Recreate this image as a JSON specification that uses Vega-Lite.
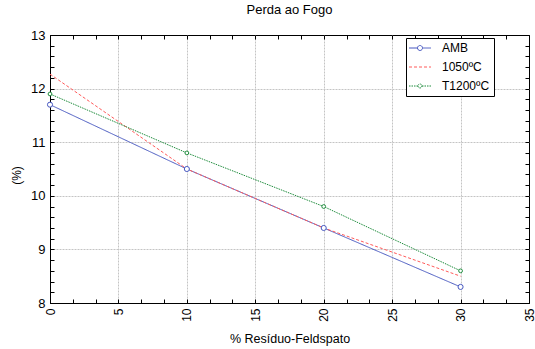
{
  "$schema": "https://vega.github.io/schema/vega-lite/v6.json",
  "autosize": {"type": "none"},
  "width": 479,
  "height": 268,
  "padding": {"left": 50, "top": 35, "right": 6, "bottom": 46},
  "background": "white",
  "config": {
    "font": "Liberation Sans",
    "view": {"stroke": "black", "strokeWidth": 1},
    "axis": {"domainColor": "black", "tickColor": "black", "labelColor": "black", "titleColor": "black", "titleFontWeight": "normal"}
  },
  "title": {"text": "Perda ao Fogo", "fontSize": 13, "fontWeight": "normal", "font": "Liberation Sans", "anchor": "middle", "offset": 12, "color": "black"},
  "data": {"values": [
    {"x": 0, "y": 11.7, "series": "AMB"},
    {"x": 10, "y": 10.5, "series": "AMB"},
    {"x": 20, "y": 9.4, "series": "AMB"},
    {"x": 30, "y": 8.3, "series": "AMB"},
    {"x": 0, "y": 12.27, "series": "1050ºC"},
    {"x": 10, "y": 10.5, "series": "1050ºC"},
    {"x": 20, "y": 9.4, "series": "1050ºC"},
    {"x": 30, "y": 8.5, "series": "1050ºC"},
    {"x": 0, "y": 11.9, "series": "T1200ºC"},
    {"x": 10, "y": 10.8, "series": "T1200ºC"},
    {"x": 20, "y": 9.8, "series": "T1200ºC"},
    {"x": 30, "y": 8.6, "series": "T1200ºC"}
  ]},
  "layer": [
    {
      "mark": {"type": "line", "strokeWidth": 1},
      "encoding": {
        "x": {"field": "x", "type": "quantitative", "scale": {"domain": [0, 35], "nice": false, "zero": false},
          "axis": {"orient": "bottom", "title": "% Resíduo-Feldspato", "titleFontSize": 12.5, "titleY": 35, "titleBaseline": "middle",
            "values": [0, 1.6667, 3.3333, 5, 6.6667, 8.3333, 10, 11.6667, 13.3333, 15, 16.6667, 18.3333, 20, 21.6667, 23.3333, 25, 26.6667, 28.3333, 30, 31.6667, 33.3333, 35],
            "labelExpr": "abs(datum.value % 5) < 0.001 ? format(datum.value, 'd') : ''",
            "labelAngle": -90, "labelFontSize": 12, "labelPadding": 9, "labelBaseline": "middle",
            "ticks": true, "tickSize": -4, "tickWidth": 1,
            "grid": true, "gridColor": "#c4c4c4", "gridDash": [2, 1], "gridWidth": 1,
            "gridOpacity": {"condition": {"test": "abs(datum.value % 5) < 0.001 && datum.value > 0 && datum.value < 35", "value": 1}, "value": 0}}},
        "y": {"field": "y", "type": "quantitative", "scale": {"domain": [8, 13], "nice": false, "zero": false},
          "axis": {"orient": "left", "title": "(%)", "titleFontSize": 12, "titleX": -34, "titleY": 140, "titleAngle": -90, "titleBaseline": "middle", "titleAlign": "center",
            "values": [8, 8.2, 8.4, 8.6, 8.8, 9, 9.2, 9.4, 9.6, 9.8, 10, 10.2, 10.4, 10.6, 10.8, 11, 11.2, 11.4, 11.6, 11.8, 12, 12.2, 12.4, 12.6, 12.8, 13],
            "labelExpr": "abs(datum.value - round(datum.value)) < 0.001 ? format(datum.value, 'd') : ''",
            "labelFontSize": 13, "labelPadding": 9,
            "ticks": true, "tickSize": -4, "tickWidth": 1,
            "grid": true, "gridColor": "#c4c4c4", "gridDash": [2, 1], "gridWidth": 1,
            "gridOpacity": {"condition": {"test": "abs(datum.value - round(datum.value)) < 0.001 && datum.value > 8 && datum.value < 13", "value": 1}, "value": 0}}},
        "color": {"field": "series", "type": "nominal",
          "scale": {"domain": ["AMB", "1050ºC", "T1200ºC"], "range": ["#4657c0", "#ff5a5a", "#1e8c3c"]},
          "legend": {"title": null, "orient": "none", "legendX": 356, "legendY": 3, "direction": "vertical",
            "strokeColor": "black", "fillColor": "white", "padding": 4,
            "labelFont": "Liberation Sans", "labelFontSize": 12, "labelColor": "black", "labelOffset": 16,
            "symbolSize": 100, "symbolStrokeWidth": 1, "symbolOpacity": 1, "rowPadding": 7, "symbolOffset": 4}},
        "strokeDash": {"field": "series", "type": "nominal",
          "scale": {"domain": ["AMB", "1050ºC", "T1200ºC"], "range": [[1, 0], [3, 2], [1.5, 1]]}}
      }
    },
    {
      "transform": [{"filter": "datum.series != '1050ºC'"}],
      "mark": {"type": "point", "shape": "circle", "filled": false, "fill": "white", "strokeWidth": 1, "fillOpacity": 1, "opacity": 1},
      "encoding": {
        "x": {"field": "x", "type": "quantitative",
          "axis": {"orient": "top", "title": null, "labels": false, "grid": false, "domain": false, "ticks": true, "tickSize": -4,
            "values": [0, 1.6667, 3.3333, 5, 6.6667, 8.3333, 10, 11.6667, 13.3333, 15, 16.6667, 18.3333, 20, 21.6667, 23.3333, 25, 26.6667, 28.3333, 30, 31.6667, 33.3333, 35]}},
        "y": {"field": "y", "type": "quantitative",
          "axis": {"orient": "right", "title": null, "labels": false, "grid": false, "domain": false, "ticks": true, "tickSize": -4,
            "values": [8, 8.2, 8.4, 8.6, 8.8, 9, 9.2, 9.4, 9.6, 9.8, 10, 10.2, 10.4, 10.6, 10.8, 11, 11.2, 11.4, 11.6, 11.8, 12, 12.2, 12.4, 12.6, 12.8, 13]}},
        "color": {"field": "series", "type": "nominal"},
        "size": {"field": "series", "type": "nominal", "scale": {"domain": ["AMB", "T1200ºC"], "range": [26, 14]}, "legend": null}
      }
    },
    {
      "mark": {"type": "point", "filled": false, "opacity": 0, "strokeWidth": 1},
      "encoding": {
        "x": {"field": "x", "type": "quantitative", "axis": null},
        "y": {"field": "y", "type": "quantitative", "axis": null},
        "color": {"field": "series", "type": "nominal"},
        "strokeDash": {"field": "series", "type": "nominal"},
        "shape": {"field": "series", "type": "nominal",
          "scale": {"domain": ["AMB", "1050ºC", "T1200ºC"], "range": [
            "M-2.2,0H-0.5M0.5,0H2.2M-0.5,0A0.5,0.5,0,1,0,0.5,0A0.5,0.5,0,1,0,-0.5,0",
            "M-2.2,0H2.2",
            "M-2.2,0H-0.4M0.4,0H2.2M-0.4,0A0.4,0.4,0,1,0,0.4,0A0.4,0.4,0,1,0,-0.4,0"]}}
      }
    }
  ]
}
